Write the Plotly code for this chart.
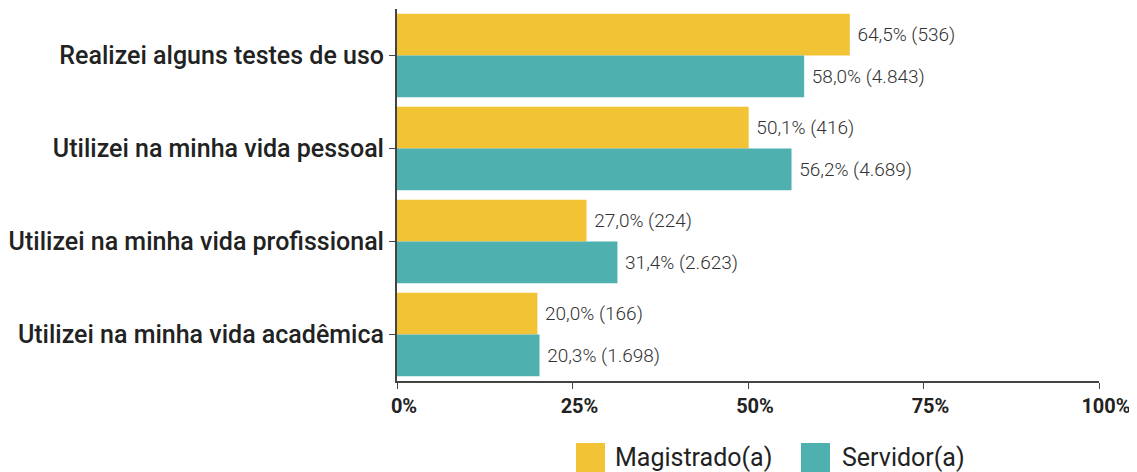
import plotly.graph_objects as go

categories = ["Realizei alguns testes de uso", "Utilizei na minha vida pessoal",
              "Utilizei na minha vida profissional", "Utilizei na minha vida acadêmica"]
mag_pct = [64.5, 50.1, 27.0, 20.0]
mag_n = [536, 416, 224, 166]
srv_pct = [58.0, 56.2, 31.4, 20.3]
srv_n = [4843, 4689, 2623, 1698]
series_names = ["Magistrado(a)", "Servidor(a)"]
tick_vals = [0, 25, 50, 75, 100]
tick_text = ["0%", "25%", "50%", "75%", "100%"]

YELLOW = "#F2C335"
TEAL = "#4FB1AF"
TXT = "#222222"

W, H = 1137, 472
L, R, T, B = 389, 46, 1, 99
PW, PH = W - L - R, H - T - B


def lbl(p, n):
    return "\u00a0" + f"{p:.1f}%".replace(".", ",") + " (" + f"{n:,}".replace(",", ".") + ")"


fig = go.Figure()
for name, pct, n, col in [(series_names[0], mag_pct, mag_n, YELLOW),
                          (series_names[1], srv_pct, srv_n, TEAL)]:
    fig.add_trace(go.Bar(
        y=categories, x=pct, orientation="h", name=name,
        marker=dict(color=col, line=dict(width=0)),
        text=[lbl(p, c) for p, c in zip(pct, n)],
        textposition="outside", cliponaxis=False,
        textfont=dict(family="Roboto", size=19, color="#333333", weight=300),
        showlegend=False,
    ))


# custom legend (large square swatches)
def px_x(fx):
    return (fx - L) / PW


def px_y(fy):
    return (H - B - fy) / PH


legend_items = [(series_names[0], YELLOW, 568, 605), (series_names[1], TEAL, 793, 832)]
for name, col, sq_left, txt_left in legend_items:
    fig.add_shape(type="rect", xref="paper", yref="paper",
                  xsizemode="pixel", ysizemode="pixel",
                  xanchor=px_x(sq_left), yanchor=px_y(435),
                  x0=0, x1=29, y0=-29, y1=0,
                  fillcolor=col, line=dict(width=0), layer="above")
    fig.add_annotation(text=name, xref="paper", yref="paper",
                       x=px_x(txt_left), y=px_y(449), xanchor="left", yanchor="middle",
                       showarrow=False,
                       font=dict(family="Roboto", size=25, color=TXT))

fig.update_layout(
    width=W, height=H,
    margin=dict(l=L, r=R, t=T, b=B, autoexpand=False),
    paper_bgcolor="white", plot_bgcolor="white",
    barmode="group", bargap=0.1, bargroupgap=0,
    font=dict(family="Roboto", color=TXT),
    showlegend=False,
)
fig.update_xaxes(range=[0, 100], tickvals=tick_vals, ticktext=tick_text,
                 showgrid=False, zeroline=False, showline=True, linecolor="#444444",
                 linewidth=2, ticks="outside", ticklen=6, tickcolor="#444444",
                 ticklabelshift=7,
                 tickfont=dict(family="Roboto", size=20, color=TXT, weight=700))
fig.update_yaxes(autorange="reversed", showgrid=False, zeroline=False, showline=True,
                 linecolor="#444444", linewidth=2, ticks="outside", ticklen=6,
                 tickcolor="#444444",
                 tickfont=dict(family="Roboto", size=25, color=TXT, weight=500))

fig.write_html("out.html")
